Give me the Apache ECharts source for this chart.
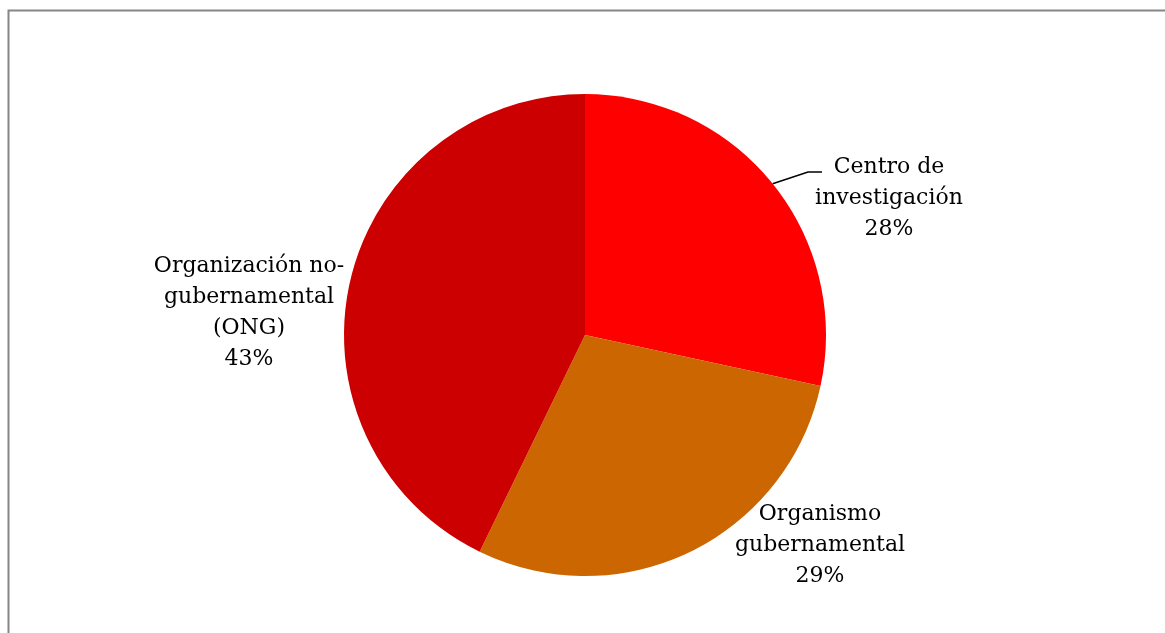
<!DOCTYPE html>
<html>
<head>
<meta charset="utf-8">
<script src="https://cdn.jsdelivr.net/npm/echarts@6/dist/echarts.min.js"></script>
<style>
html,body{margin:0;padding:0;background:#fff;}
#c{width:1165px;height:633px;}
</style>
</head>
<body>
<div id="c"></div>
<script>
const categories = ['Centro de\ninvestigación', 'Organismo\ngubernamental', 'Organización no-\ngubernamental\n(ONG)'];
const values = [28.4, 28.8, 42.8];
const colors = ['#FF0000', '#CC6600', '#CC0000'];
const labelCenters = [[889, 198], [820, 545], [249, 313]];

const chart = echarts.init(document.getElementById('c'), null, {renderer: 'canvas'});
const total = values.reduce((a, b) => a + b, 0);
chart.setOption({
  animation: false,
  backgroundColor: '#fff',
  graphic: [{
    type: 'rect',
    shape: {x: 8.5, y: 10.5, width: 1300, height: 800},
    style: {fill: 'none', stroke: '#868686', lineWidth: 2}
  }],
  series: [{
    type: 'pie',
    center: [585, 335],
    radius: 241,
    startAngle: 90,
    clockwise: true,
    data: categories.map((c, i) => ({
      name: c,
      value: values[i],
      itemStyle: {color: colors[i]},
      labelLine: {show: i === 0, lineStyle: {color: '#000', width: 1.5}}
    })),
    label: {
      show: true,
      position: 'outside',
      color: '#000',
      fontFamily: 'DejaVu Serif',
      fontSize: 22,
      lineHeight: 31,
      align: 'center',
      formatter: p => p.name + '\n' + Math.round(p.value / total * 100) + '%'
    },
    labelLine: {length: 20, length2: 15, smooth: false},
    labelLayout: p => {
      const r = {
        x: labelCenters[p.dataIndex][0],
        y: labelCenters[p.dataIndex][1],
        align: 'center',
        verticalAlign: 'middle'
      };
      if (p.dataIndex === 0 && p.labelLinePoints) {
        r.labelLinePoints = [p.labelLinePoints[0], [808, 172], [822, 172]];
      }
      return r;
    }
  }]
});
</script>
</body>
</html>
